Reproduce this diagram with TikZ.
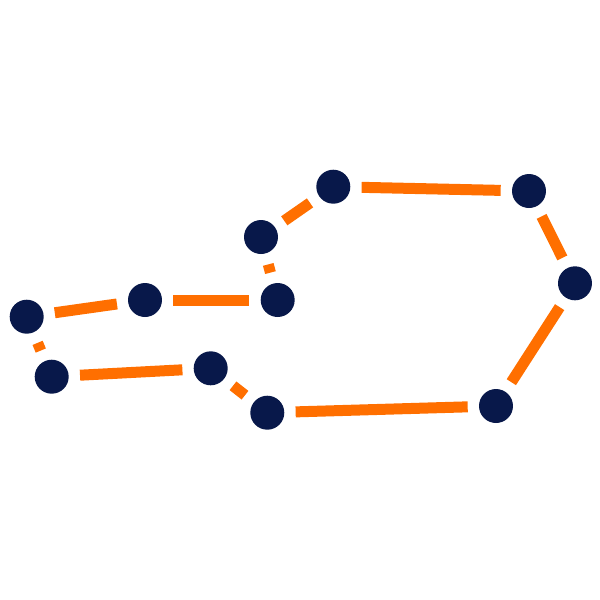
\documentclass[tikz,border=0pt]{standalone}
\definecolor{navy}{RGB}{8,24,74}
\definecolor{orng}{RGB}{255,111,0}
\begin{document}
\begin{tikzpicture}[x=0.02cm,y=-0.02cm,
  dot/.style={circle,fill=navy,inner sep=0pt,minimum size=0.68cm},
  link/.style={draw=orng,line width=0.22cm,shorten >=0.22cm,shorten <=0.22cm}]
\useasboundingbox (0,0) rectangle (600,600);
\node[dot] (a) at (26.7,316.7) {};
\node[dot] (b) at (145,300) {};
\node[dot] (c) at (277.7,300) {};
\node[dot] (d) at (261,237) {};
\node[dot] (e) at (333.3,186.7) {};
\node[dot] (f) at (529,191) {};
\node[dot] (g) at (575,283.3) {};
\node[dot] (h) at (496,406) {};
\node[dot] (i) at (267.3,412.7) {};
\node[dot] (j) at (210.7,368.3) {};
\node[dot] (k) at (51.7,376.7) {};
\foreach \u/\v in {a/b,b/c,c/d,d/e,e/f,f/g,g/h,h/i,i/j,j/k,k/a}
  \draw[link] (\u) -- (\v);
\end{tikzpicture}
\end{document}
